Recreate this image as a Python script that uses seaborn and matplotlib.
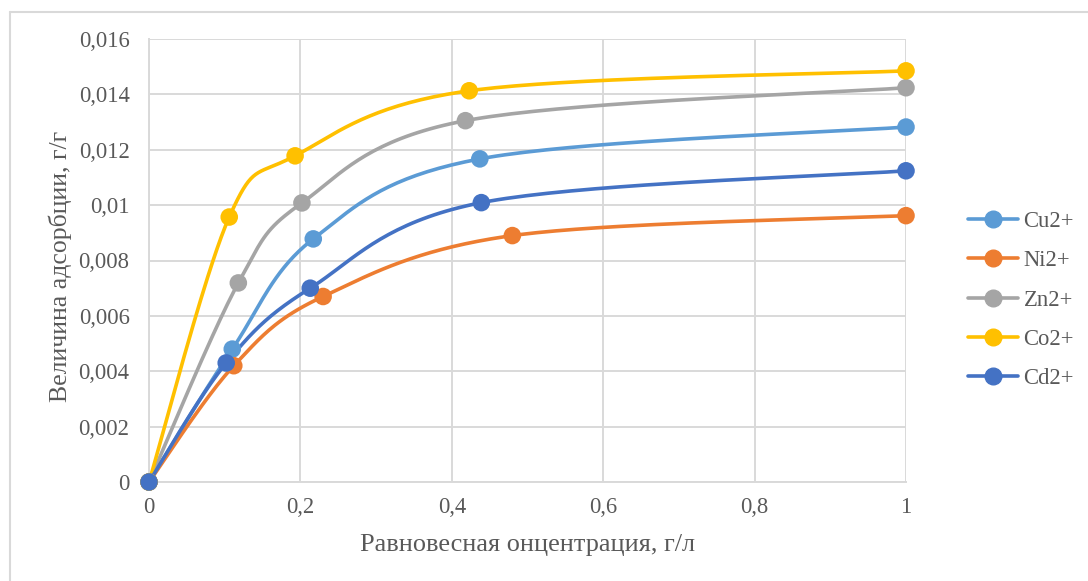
import numpy as np
import pandas as pd
import matplotlib
matplotlib.use("Agg")
import matplotlib.pyplot as plt
from matplotlib.lines import Line2D
import seaborn as sns

# ---- data ----
series = ["Cu2+", "Ni2+", "Zn2+", "Co2+", "Cd2+"]
cu_x = [0, 0.110, 0.217, 0.437, 1.0]
cu_y = [0, 0.00480, 0.00878, 0.01167, 0.01282]
ni_x = [0, 0.112, 0.230, 0.480, 1.0]
ni_y = [0, 0.00420, 0.00670, 0.00890, 0.00962]
zn_x = [0, 0.118, 0.202, 0.418, 1.0]
zn_y = [0, 0.00719, 0.01008, 0.01305, 0.01424]
co_x = [0, 0.106, 0.193, 0.423, 1.0]
co_y = [0, 0.00957, 0.01178, 0.01413, 0.01485]
cd_x = [0, 0.102, 0.213, 0.439, 1.0]
cd_y = [0, 0.00430, 0.00700, 0.01009, 0.01124]
colors = ["#5B9BD5", "#ED7D31", "#A5A5A5", "#FFC000", "#4472C4"]
x_ticks = [0, 0.2, 0.4, 0.6, 0.8, 1.0]
x_ticklabels = ["0", "0,2", "0,4", "0,6", "0,8", "1"]
y_ticks = [0, 0.002, 0.004, 0.006, 0.008, 0.010, 0.012, 0.014, 0.016]
y_ticklabels = ["0", "0,002", "0,004", "0,006", "0,008", "0,01", "0,012", "0,014", "0,016"]

xs = [cu_x, ni_x, zn_x, co_x, cd_x]
ys = [cu_y, ni_y, zn_y, co_y, cd_y]

pts = pd.DataFrame({
    "x": np.concatenate(xs),
    "y": np.concatenate(ys),
    "ion": np.repeat(series, [len(a) for a in xs]),
})


def smooth(px, py, n=40):
    # Excel-like smoothed line (Catmull-Rom Bezier through the points)
    P = np.column_stack([px, py]).astype(float)
    m = len(P)
    out = []
    for i in range(m - 1):
        p0 = P[max(i - 1, 0)]
        p1 = P[i]
        p2 = P[i + 1]
        p3 = P[min(i + 2, m - 1)]
        c1 = p1 + (p2 - p0) / 6.0
        c2 = p2 - (p3 - p1) / 6.0
        t = np.linspace(0, 1, n)[:, None]
        seg = ((1 - t) ** 3) * p1 + 3 * ((1 - t) ** 2) * t * c1 + 3 * (1 - t) * t ** 2 * c2 + t ** 3 * p2
        out.append(seg if i == 0 else seg[1:])
    out = np.vstack(out)
    return out[:, 0], out[:, 1]


curves = []
for name, a, b in zip(series, xs, ys):
    sx, sy = smooth(a, b)
    curves.append(pd.DataFrame({"x": sx, "y": sy, "ion": name, "order": np.arange(len(sx))}))
curves = pd.concat(curves, ignore_index=True)

sns.set_theme(style="white")
plt.rcParams["font.family"] = ["Liberation Serif", "DejaVu Serif"]

fig = plt.figure(figsize=(10.88, 5.81), dpi=100)
ax = fig.add_axes([149 / 1088, 1 - 482 / 581, (906 - 149) / 1088, (482 - 39) / 581])

palette = dict(zip(series, colors))
for name in series:
    sub = curves[curves["ion"] == name]
    sns.lineplot(data=sub, x="x", y="y", color=palette[name], sort=False,
                 estimator=None, linewidth=2.6, ax=ax, legend=False, zorder=3)
    subp = pts[pts["ion"] == name]
    sns.scatterplot(data=subp, x="x", y="y", color=palette[name], s=160,
                    edgecolor="none", ax=ax, legend=False, zorder=4, clip_on=False)

ax.set_xlim(0, 1.0)
ax.set_ylim(0, 0.016)
ax.set_xticks(x_ticks)
ax.set_xticklabels(x_ticklabels)
ax.set_yticks(y_ticks)
ax.set_yticklabels(y_ticklabels)
ax.grid(True, color="#D9D9D9", linewidth=1.4)
ax.set_axisbelow(True)
for s in ["top", "right"]:
    ax.spines[s].set_visible(False)
for s in ["left", "bottom"]:
    ax.spines[s].set_color("#D9D9D9")
    ax.spines[s].set_linewidth(1.4)
ax.tick_params(axis="both", length=0, labelsize=16.3, labelcolor="#595959")
ax.tick_params(axis="x", pad=11)
ax.tick_params(axis="y", pad=14)
ax.set_xlabel("Равновесная онцентрация, г/л", fontsize=18.9, color="#595959",
              va="center", ha="center")
ax.set_ylabel("Величина адсорбции, г/г", fontsize=18.5, color="#595959",
              va="center", ha="center")
ax.xaxis.set_label_coords(0.5, (482 - 545) / 443)
ax.yaxis.set_label_coords((60 - 149) / 757, (482 - 266) / 443)

handles = [Line2D([0], [0], color=c, lw=2.6, marker="o", markersize=12) for c in colors]
fig.legend(handles, series, loc="center left", bbox_to_anchor=(968 / 1088, 1 - 300 / 581),
           frameon=False, fontsize=16.3, labelcolor="#595959", handlelength=2.2,
           handletextpad=0.25, labelspacing=0.8, borderaxespad=0, borderpad=0)

# outer chart border (left and top visible)
fig.add_artist(Line2D([10 / 1088, 10 / 1088], [0, 1 - 12 / 581], color="#D9D9D9", lw=1.5,
                      transform=fig.transFigure))
fig.add_artist(Line2D([10 / 1088, 1], [1 - 12 / 581, 1 - 12 / 581], color="#D9D9D9", lw=1.5,
                      transform=fig.transFigure))

fig.savefig("out.png", dpi=100)
